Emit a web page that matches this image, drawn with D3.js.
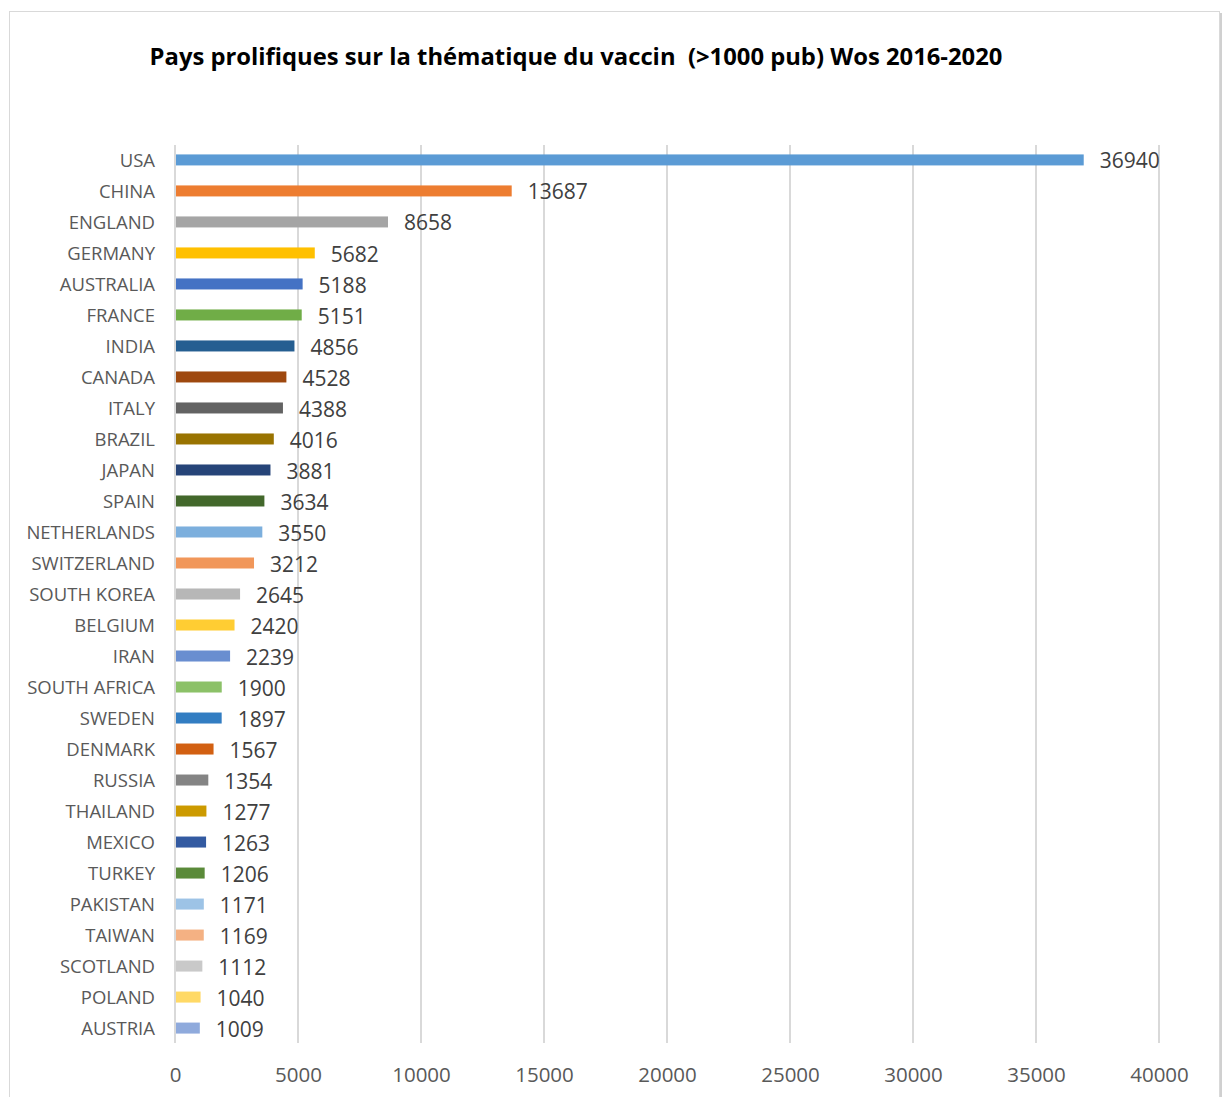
<!DOCTYPE html>
<html><head><meta charset="utf-8">
<script src="https://cdn.jsdelivr.net/npm/d3@7"></script>
<style>body{margin:0;background:#fff;} svg{display:block;}</style>
</head><body>
<svg id="c" width="1225" height="1097"></svg>
<script>
const countries = ["USA","CHINA","ENGLAND","GERMANY","AUSTRALIA","FRANCE","INDIA","CANADA","ITALY","BRAZIL","JAPAN","SPAIN","NETHERLANDS","SWITZERLAND","SOUTH KOREA","BELGIUM","IRAN","SOUTH AFRICA","SWEDEN","DENMARK","RUSSIA","THAILAND","MEXICO","TURKEY","PAKISTAN","TAIWAN","SCOTLAND","POLAND","AUSTRIA"];
const values = [36940,13687,8658,5682,5188,5151,4856,4528,4388,4016,3881,3634,3550,3212,2645,2420,2239,1900,1897,1567,1354,1277,1263,1206,1171,1169,1112,1040,1009];
const colors = ["#5B9BD5","#ED7D31","#A5A5A5","#FFC000","#4472C4","#70AD47","#255E91","#9E480E","#636363","#997300","#264478","#43682B","#7CAFDD","#F1975A","#B7B7B7","#FFCD33","#698ED0","#8CC168","#327DC2","#D26012","#848484","#CC9A00","#335AA1","#5A8A39","#9DC3E6","#F4B183","#C9C9C9","#FFD966","#8FAADC"];
const xTicks = [0,5000,10000,15000,20000,25000,30000,35000,40000];
const title = "Pays prolifiques sur la thématique du vaccin  (>1000 pub) Wos 2016-2020";

const svg = d3.select("#c");
svg.append("rect").attr("x",12).attr("y",13).attr("width",1210).attr("height",1100).attr("fill","#d0d0d0");
svg.append("rect").attr("x",9.5).attr("y",11.5).attr("width",1210).attr("height",1100).attr("fill","#fff").attr("stroke","#d9d9d9").attr("stroke-width",1);

svg.append("text").attr("x",576).attr("y",65).attr("text-anchor","middle")
  .attr("font-family","Open Sans, sans-serif").attr("font-weight","bold").attr("font-size",23.8)
  .attr("fill","#000").style("white-space","pre").text(title);

const x = d3.scaleLinear().domain([0,40000]).range([175,1159]);
const y = d3.scaleBand().domain(countries).range([144.5,1043.5]).paddingInner(0.645).paddingOuter(0.32);

const g = svg.append("g");
g.selectAll("line.grid").data(xTicks).join("line")
  .attr("x1",d=>x(d)).attr("x2",d=>x(d)).attr("y1",145).attr("y2",1043)
  .attr("stroke","#d9d9d9").attr("stroke-width",2);

g.selectAll("rect.bar").data(countries).join("rect")
  .attr("x",x(0)+1).attr("y",d=>y(d)).attr("height",y.bandwidth())
  .attr("width",(d,i)=>x(values[i])-x(0)-1).attr("fill",(d,i)=>colors[i]);

g.selectAll("text.val").data(countries).join("text")
  .attr("x",(d,i)=>x(values[i])+16).attr("y",d=>y(d)+y.bandwidth()/2+1).attr("dy","0.36em")
  .attr("font-family","Open Sans, sans-serif").attr("font-size",21).attr("fill","#404040")
  .text((d,i)=>values[i]);

g.selectAll("text.cat").data(countries).join("text")
  .attr("x",155).attr("y",d=>y(d)+y.bandwidth()/2).attr("dy","0.36em").attr("text-anchor","end")
  .attr("font-family","Open Sans, sans-serif").attr("font-size",18.5).attr("fill","#595959")
  .text(d=>d);

const ax = svg.append("g").attr("transform","translate(0,1043)")
  .call(d3.axisBottom(x).tickValues(xTicks).tickSize(0).tickPadding(24).tickFormat(d3.format("d")));
ax.select(".domain").remove();
ax.selectAll("text").attr("font-family","Open Sans, sans-serif").attr("font-size",20.5).attr("fill","#595959");
</script>
</body></html>
